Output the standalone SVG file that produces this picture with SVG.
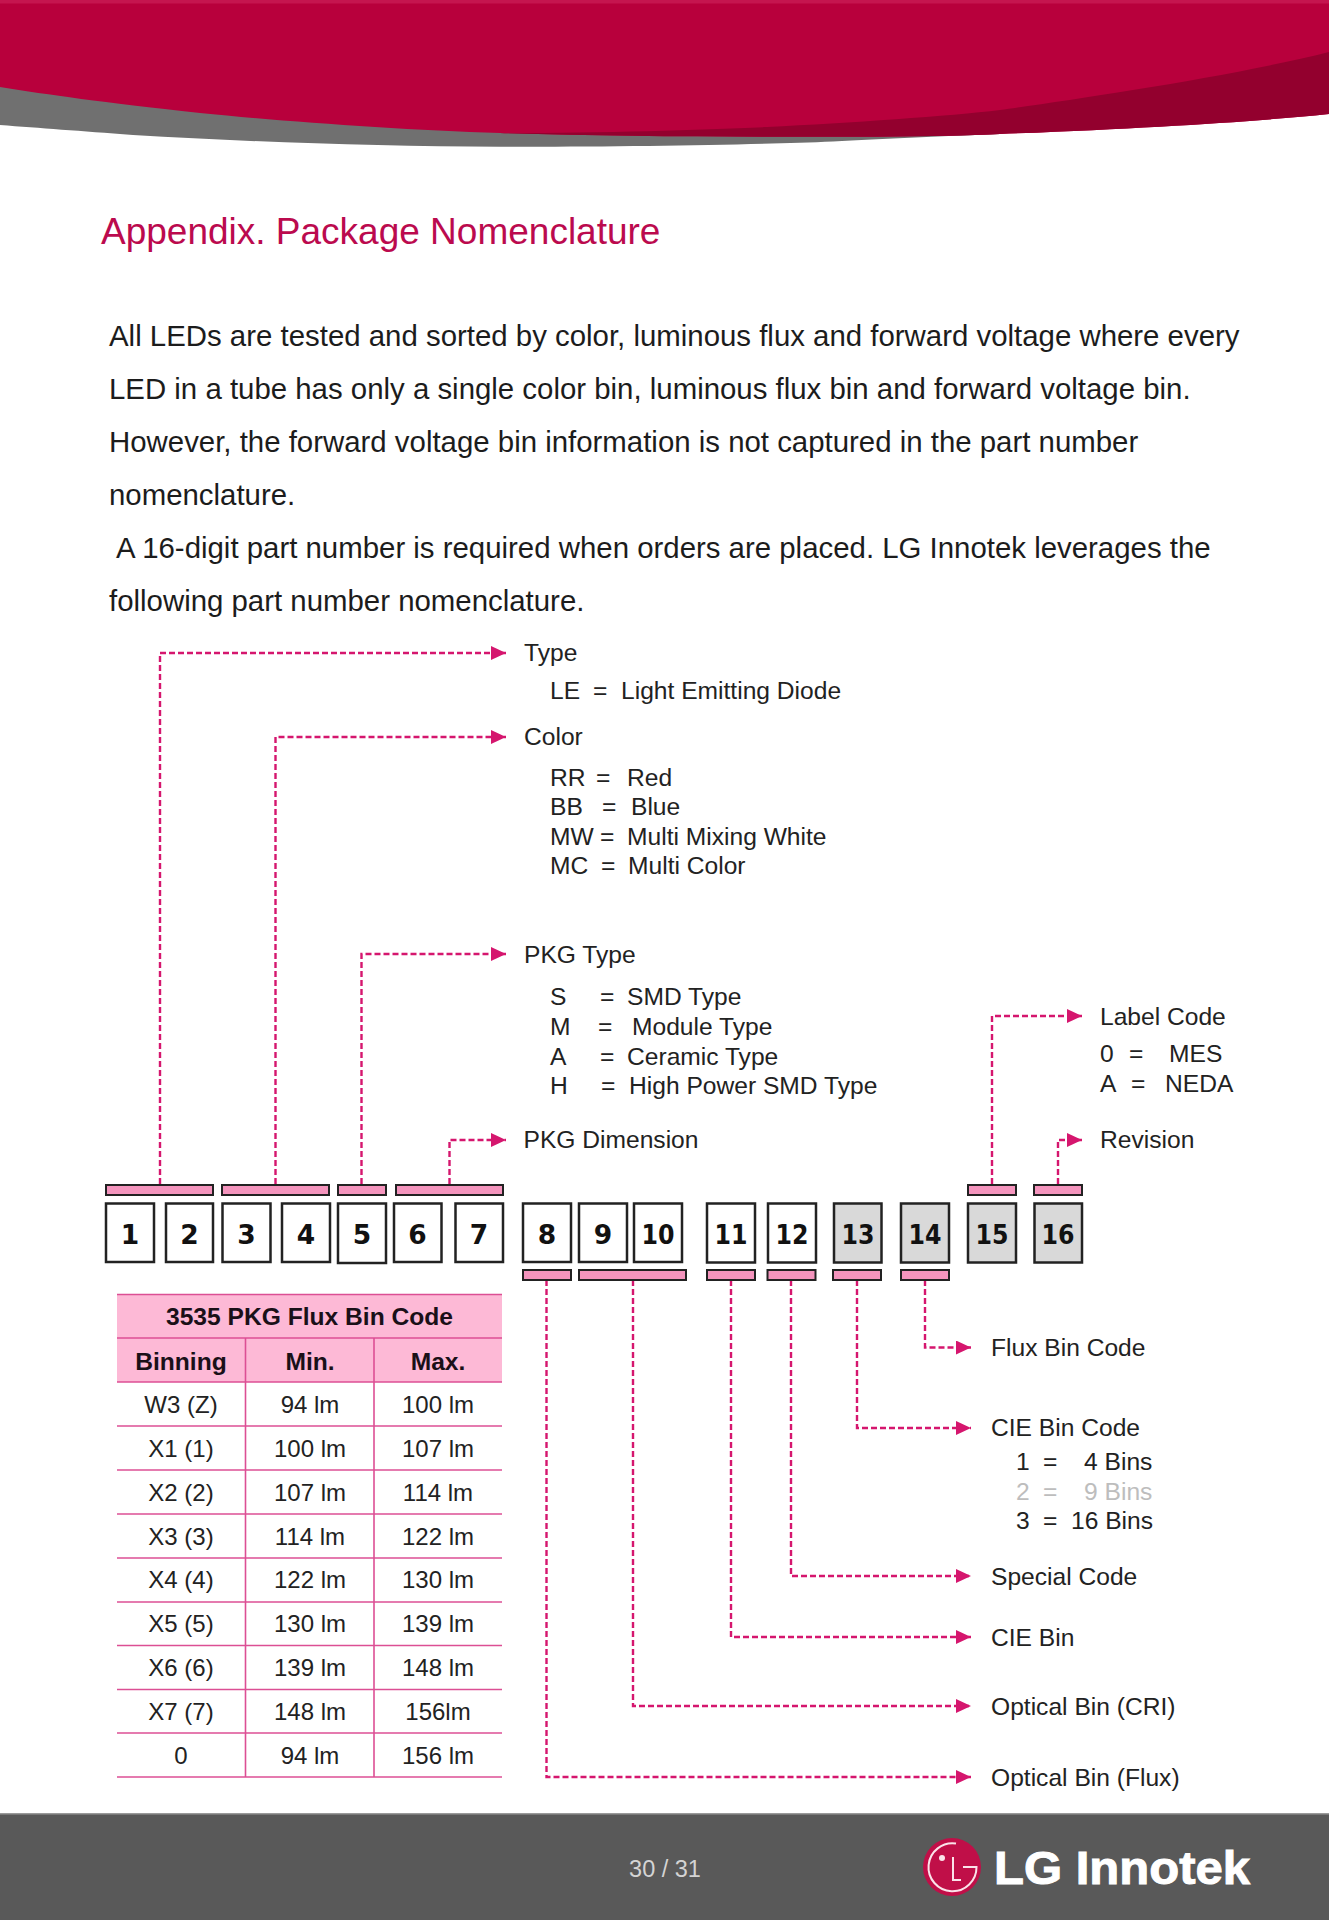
<svg xmlns="http://www.w3.org/2000/svg" width="1329" height="1920" viewBox="0 0 1329 1920">
<style>
text{font-family:"Liberation Sans",Arial,sans-serif;fill:#222}
.body{font-size:29.4px;fill:#1c1c1c}
.lab{font-size:24.6px}
.num{font-family:"DejaVu Sans",sans-serif;font-weight:700;font-size:26.5px;fill:#111;text-anchor:middle}
.box{fill:#fff;stroke:#222;stroke-width:2.5}
.grey{fill:#d9d9d9}
.bar{fill:#f494bd;stroke:#222;stroke-width:2}
.conn{fill:none;stroke:#d5166e;stroke-width:2.4;stroke-dasharray:6 3;marker-end:url(#arrow)}
.cell{font-size:24px;text-anchor:middle}
.head{font-size:24.6px;font-weight:700;text-anchor:middle;fill:#1a1018}
.rule{stroke:#dc4f94;stroke-width:1.6}
</style>
<defs>
<marker id="arrow" markerUnits="userSpaceOnUse" markerWidth="16" markerHeight="16" refX="15" refY="7" orient="auto"><path d="M0 0L15 7L0 14z" fill="#d5166e"/></marker>
</defs>
<rect width="1329" height="1920" fill="#fff"/>
<!-- page banner -->
<g id="banner">
<path d="M0 80V125C40 128 80 131 133 135C250 142 380 146.500 500 146.700C620 147 750 145 833 141.500C880 139 950 136 1000 134V80z" fill="#707070"/>
<path d="M0 3H1329V114C1250 122 1150 128 1000 134C950 136 900 137 833 136.700C720 137 600 136 500 133C400 130 280 121 200 113C100 102 50 95 0 87z" fill="#b8003c"/>
<path d="M500 133C600 133 700 130 767 127C850 123 950 116 1000 110C1070 100 1230 77 1329 52V114C1250 122 1150 128 1000 134C950 136 900 137 833 136.700C720 137 600 136 500 133z" fill="#93002e"/>
<rect width="1329" height="3.500" fill="#c5154f"/>
</g>
<text x="101" y="244" font-size="37" style="fill:#bb0a4e">Appendix. Package Nomenclature</text>
<g id="intro">
<text class="body" x="109" y="346">All LEDs are tested and sorted by color, luminous flux and forward voltage where every</text>
<text class="body" x="109" y="399">LED in a tube has only a single color bin, luminous flux bin and forward voltage bin.</text>
<text class="body" x="109" y="452">However, the forward voltage bin information is not captured in the part number</text>
<text class="body" x="109" y="505">nomenclature.</text>
<text class="body" x="116" y="558">A 16-digit part number is required when orders are placed. LG Innotek leverages the</text>
<text class="body" x="109" y="611">following part number nomenclature.</text>
</g>
<!-- connectors from the digit bars to their legends -->
<g id="connectors">
<path class="conn" d="M160 1184V653H506"/>
<path class="conn" d="M275.500 1184V737H506"/>
<path class="conn" d="M361.500 1184V954H506"/>
<path class="conn" d="M449.500 1184V1140H506"/>
<path class="conn" d="M992 1184V1016H1082"/>
<path class="conn" d="M1058 1184V1140H1082"/>
<path class="conn" d="M925 1280V1347.500H971"/>
<path class="conn" d="M857 1280V1428H971"/>
<path class="conn" d="M791 1280V1576H971"/>
<path class="conn" d="M731 1280V1637H971"/>
<path class="conn" d="M633 1280V1706H971"/>
<path class="conn" d="M546.500 1280V1777H971"/>
</g>
<g id="bars">
<rect class="bar" x="106" y="1185" width="107" height="10"/>
<rect class="bar" x="222" y="1185" width="107" height="10"/>
<rect class="bar" x="338" y="1185" width="48" height="10"/>
<rect class="bar" x="396" y="1185" width="107" height="10"/>
<rect class="bar" x="968" y="1185" width="48" height="10"/>
<rect class="bar" x="1034" y="1185" width="48" height="10"/>
<rect class="bar" x="523" y="1270" width="48" height="10"/>
<rect class="bar" x="579" y="1270" width="107" height="10"/>
<rect class="bar" x="707" y="1270" width="48" height="10"/>
<rect class="bar" x="767.500" y="1270" width="48" height="10"/>
<rect class="bar" x="833" y="1270" width="48" height="10"/>
<rect class="bar" x="901" y="1270" width="48" height="10"/>
</g>
<g id="digit-1"><rect class="box" x="106" y="1203.500" width="48" height="58.500"/><text class="num" x="130" y="1244">1</text></g>
<g id="digit-2"><rect class="box" x="166" y="1203.500" width="47" height="58.500"/><text class="num" x="189.500" y="1244">2</text></g>
<g id="digit-3"><rect class="box" x="222.500" y="1203.500" width="48" height="58.500"/><text class="num" x="246.500" y="1244">3</text></g>
<g id="digit-4"><rect class="box" x="282" y="1203.500" width="48" height="58.500"/><text class="num" x="306" y="1244">4</text></g>
<g id="digit-5"><rect class="box" x="338" y="1203.500" width="48" height="59.500"/><text class="num" x="362" y="1244">5</text></g>
<g id="digit-6"><rect class="box" x="394" y="1203.500" width="47.500" height="58.500"/><text class="num" x="417.500" y="1244">6</text></g>
<g id="digit-7"><rect class="box" x="455.500" y="1203.500" width="47.500" height="58.500"/><text class="num" x="479" y="1244">7</text></g>
<g id="digit-8"><rect class="box" x="523" y="1203.500" width="48" height="58.500"/><text class="num" x="547" y="1244">8</text></g>
<g id="digit-9"><rect class="box" x="579" y="1203.500" width="48" height="58.500"/><text class="num" x="603" y="1244">9</text></g>
<g id="digit-10"><rect class="box" x="634" y="1203.500" width="48" height="58.500"/><text class="num" x="658" y="1244" textLength="33" lengthAdjust="spacingAndGlyphs">10</text></g>
<g id="digit-11"><rect class="box" x="707" y="1203.500" width="48" height="59"/><text class="num" x="731" y="1244" textLength="33" lengthAdjust="spacingAndGlyphs">11</text></g>
<g id="digit-12"><rect class="box" x="768" y="1203.500" width="48" height="59"/><text class="num" x="792" y="1244" textLength="33" lengthAdjust="spacingAndGlyphs">12</text></g>
<g id="digit-13"><rect class="box grey" x="834" y="1203.500" width="47.500" height="59"/><text class="num" x="858" y="1244" textLength="33" lengthAdjust="spacingAndGlyphs">13</text></g>
<g id="digit-14"><rect class="box grey" x="901" y="1203.500" width="48" height="59"/><text class="num" x="925" y="1244" textLength="33" lengthAdjust="spacingAndGlyphs">14</text></g>
<g id="digit-15"><rect class="box grey" x="968" y="1203.500" width="48" height="59"/><text class="num" x="992" y="1244" textLength="33" lengthAdjust="spacingAndGlyphs">15</text></g>
<g id="digit-16"><rect class="box grey" x="1034.500" y="1203.500" width="47.500" height="59"/><text class="num" x="1058" y="1244" textLength="33" lengthAdjust="spacingAndGlyphs">16</text></g>
<!-- legends -->
<g id="legend-type">
<text class="lab" x="524" y="661">Type</text>
<text class="lab" y="699"><tspan x="550">LE</tspan><tspan x="593">=</tspan><tspan x="621">Light Emitting Diode</tspan></text>
</g>
<g id="legend-color">
<text class="lab" x="524" y="745">Color</text>
<text class="lab" y="786"><tspan x="550">RR</tspan><tspan x="596">=</tspan><tspan x="627">Red</tspan></text>
<text class="lab" y="815"><tspan x="550">BB</tspan><tspan x="602">=</tspan><tspan x="631">Blue</tspan></text>
<text class="lab" y="845"><tspan x="550">MW</tspan><tspan x="600">=</tspan><tspan x="627">Multi Mixing White</tspan></text>
<text class="lab" y="874"><tspan x="550">MC</tspan><tspan x="601">=</tspan><tspan x="628">Multi Color</tspan></text>
</g>
<g id="legend-pkg-type">
<text class="lab" x="524" y="963">PKG Type</text>
<text class="lab" y="1005"><tspan x="550">S</tspan><tspan x="600">=</tspan><tspan x="627">SMD Type</tspan></text>
<text class="lab" y="1035"><tspan x="550">M</tspan><tspan x="598">=</tspan><tspan x="632">Module Type</tspan></text>
<text class="lab" y="1065"><tspan x="550">A</tspan><tspan x="600">=</tspan><tspan x="627">Ceramic Type</tspan></text>
<text class="lab" y="1094"><tspan x="550">H</tspan><tspan x="601">=</tspan><tspan x="629">High Power SMD Type</tspan></text>
</g>
<g id="legend-pkg-dimension"><text class="lab" x="523.500" y="1148">PKG Dimension</text></g>
<g id="legend-label-code">
<text class="lab" x="1100" y="1025">Label Code</text>
<text class="lab" y="1062"><tspan x="1100">0</tspan><tspan x="1129">=</tspan><tspan x="1169">MES</tspan></text>
<text class="lab" y="1092"><tspan x="1100">A</tspan><tspan x="1131">=</tspan><tspan x="1165">NEDA</tspan></text>
</g>
<g id="legend-revision"><text class="lab" x="1100" y="1148">Revision</text></g>
<g id="legend-flux-bin"><text class="lab" x="991" y="1356">Flux Bin Code</text></g>
<g id="legend-cie-bin-code">
<text class="lab" x="991" y="1436">CIE Bin Code</text>
<text class="lab" y="1470"><tspan x="1016">1</tspan><tspan x="1043">=</tspan><tspan x="1084">4 Bins</tspan></text>
<text class="lab" y="1500" style="fill:#bdbdbd"><tspan x="1016">2</tspan><tspan x="1043">=</tspan><tspan x="1084">9 Bins</tspan></text>
<text class="lab" y="1529"><tspan x="1016">3</tspan><tspan x="1043">=</tspan><tspan x="1071">16 Bins</tspan></text>
</g>
<g id="legend-special"><text class="lab" x="991" y="1585">Special Code</text></g>
<g id="legend-cie-bin"><text class="lab" x="991" y="1646">CIE Bin</text></g>
<g id="legend-optical-cri"><text class="lab" x="991" y="1715">Optical Bin (CRI)</text></g>
<g id="legend-optical-flux"><text class="lab" x="991" y="1786">Optical Bin (Flux)</text></g>
<!-- flux bin table -->
<g id="flux-table">
<rect x="117" y="1294" width="385" height="88" fill="#fdb9d6"/>
<line class="rule" x1="117" x2="502" y1="1294.500" y2="1294.500"/>
<line class="rule" x1="117" x2="502" y1="1338" y2="1338"/>
<line class="rule" x1="117" x2="502" y1="1382" y2="1382"/>
<line class="rule" x1="117" x2="502" y1="1426" y2="1426"/>
<line class="rule" x1="117" x2="502" y1="1470" y2="1470"/>
<line class="rule" x1="117" x2="502" y1="1514" y2="1514"/>
<line class="rule" x1="117" x2="502" y1="1558" y2="1558"/>
<line class="rule" x1="117" x2="502" y1="1602" y2="1602"/>
<line class="rule" x1="117" x2="502" y1="1645.500" y2="1645.500"/>
<line class="rule" x1="117" x2="502" y1="1689.500" y2="1689.500"/>
<line class="rule" x1="117" x2="502" y1="1733" y2="1733"/>
<line class="rule" x1="117" x2="502" y1="1777" y2="1777"/>
<line class="rule" x1="245.500" x2="245.500" y1="1338" y2="1777"/>
<line class="rule" x1="374" x2="374" y1="1338" y2="1777"/>
<text class="head" x="309.500" y="1325">3535 PKG Flux Bin Code</text>
<text class="head" x="181" y="1370">Binning</text><text class="head" x="310" y="1370">Min.</text><text class="head" x="438" y="1370">Max.</text>
<text class="cell" x="181" y="1413">W3 (Z)</text><text class="cell" x="310" y="1413">94 lm</text><text class="cell" x="438" y="1413">100 lm</text>
<text class="cell" x="181" y="1457">X1 (1)</text><text class="cell" x="310" y="1457">100 lm</text><text class="cell" x="438" y="1457">107 lm</text>
<text class="cell" x="181" y="1501">X2 (2)</text><text class="cell" x="310" y="1501">107 lm</text><text class="cell" x="438" y="1501">114 lm</text>
<text class="cell" x="181" y="1545">X3 (3)</text><text class="cell" x="310" y="1545">114 lm</text><text class="cell" x="438" y="1545">122 lm</text>
<text class="cell" x="181" y="1588">X4 (4)</text><text class="cell" x="310" y="1588">122 lm</text><text class="cell" x="438" y="1588">130 lm</text>
<text class="cell" x="181" y="1632">X5 (5)</text><text class="cell" x="310" y="1632">130 lm</text><text class="cell" x="438" y="1632">139 lm</text>
<text class="cell" x="181" y="1676">X6 (6)</text><text class="cell" x="310" y="1676">139 lm</text><text class="cell" x="438" y="1676">148 lm</text>
<text class="cell" x="181" y="1720">X7 (7)</text><text class="cell" x="310" y="1720">148 lm</text><text class="cell" x="438" y="1720">156lm</text>
<text class="cell" x="181" y="1764">0</text><text class="cell" x="310" y="1764">94 lm</text><text class="cell" x="438" y="1764">156 lm</text>
</g>
<!-- footer -->
<g id="footer">
<rect y="1814" width="1329" height="106" fill="#595959"/>
<rect y="1813" width="1329" height="1.500" fill="#9a9a9a"/>
<text x="665" y="1877" font-size="23.500" text-anchor="middle" style="fill:#d4d4d4">30 / 31</text>
<circle cx="952" cy="1867" r="29" fill="#c00f48"/>
<g fill="none" stroke="#fbe3ea" stroke-width="2">
<path d="M956 1843.500A24 24 0 1 0 976.500 1867H963"/>
<path d="M953 1857V1880H961"/>
</g>
<circle cx="942" cy="1858" r="3" fill="#fbe3ea"/>
<text x="994" y="1884" font-size="47" font-weight="700" textLength="256" lengthAdjust="spacingAndGlyphs" style="fill:#fff;stroke:#fff;stroke-width:1">LG Innotek</text>
</g>
</svg>
